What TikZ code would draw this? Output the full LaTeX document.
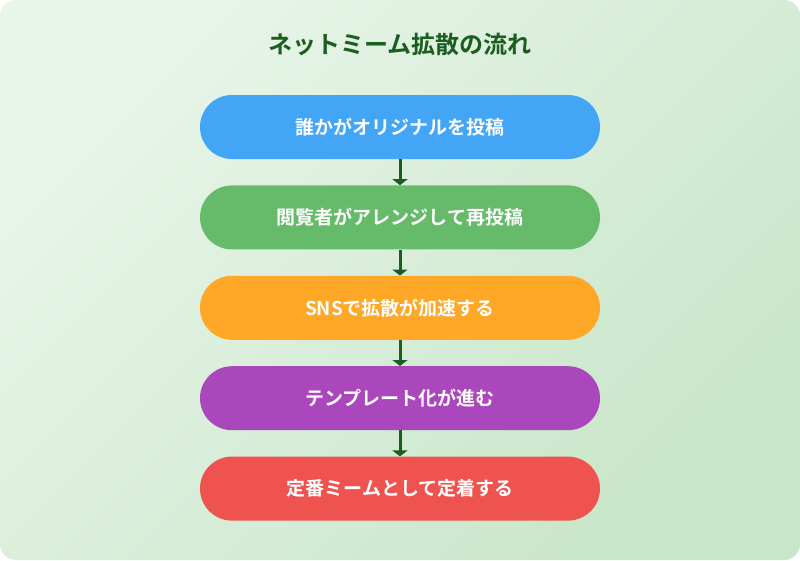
\documentclass[tikz,border=0pt]{standalone}
\usepackage{fontspec}
\usepackage{tikz}
\usepackage{xcolor}
\usetikzlibrary{positioning,arrows.meta}
\newfontfamily\jpfont{Noto Sans CJK JP}[BoldFont={Noto Sans CJK JP Bold}]
\definecolor{bg-light}{HTML}{E8F5E9}
\definecolor{bg-dark}{HTML}{C8E6C9}
\definecolor{title-green}{HTML}{1B5E20}
\definecolor{step-blue}{HTML}{42A5F5}
\definecolor{step-green}{HTML}{66BB6A}
\definecolor{step-orange}{HTML}{FFA726}
\definecolor{step-purple}{HTML}{AB47BC}
\definecolor{step-red}{HTML}{EF5350}
\tikzset{
    flow-box/.style = {rectangle, rounded corners=32pt, minimum width=400pt, minimum height=64pt, text=white, font=\jpfont\bfseries\fontsize{19}{22}\selectfont},
    flow-title/.style = {text=title-green, font=\jpfont\bfseries\fontsize{24}{28}\selectfont},
    flow-arrow/.style = {draw=title-green, line width=3pt, -{Triangle[width=15pt,length=6pt]}},
}
\begin{document}
\begin{tikzpicture}[x=1pt,y=-1pt]
\useasboundingbox (0,0) rectangle (800,560);
\shade[rounded corners=16pt, top color=bg-light, bottom color=bg-dark, shading angle=45] (0,0) rectangle (800,560);
\node[flow-title] (title) at (400,44) {ネットミーム拡散の流れ};
\node[flow-box, fill=step-blue] (post) at (400,127) {誰かがオリジナルを投稿};
\node[flow-box, fill=step-green, below=26pt of post] (remix) {閲覧者がアレンジして再投稿};
\node[flow-box, fill=step-orange, below=26pt of remix] (spread) {SNSで拡散が加速する};
\node[flow-box, fill=step-purple, below=26pt of spread] (template) {テンプレート化が進む};
\node[flow-box, fill=step-red, below=26pt of template] (settle) {定番ミームとして定着する};
\draw[flow-arrow] (post) -- (remix);
\draw[flow-arrow] (remix) -- (spread);
\draw[flow-arrow] (spread) -- (template);
\draw[flow-arrow] (template) -- (settle);
\end{tikzpicture}
\end{document}
